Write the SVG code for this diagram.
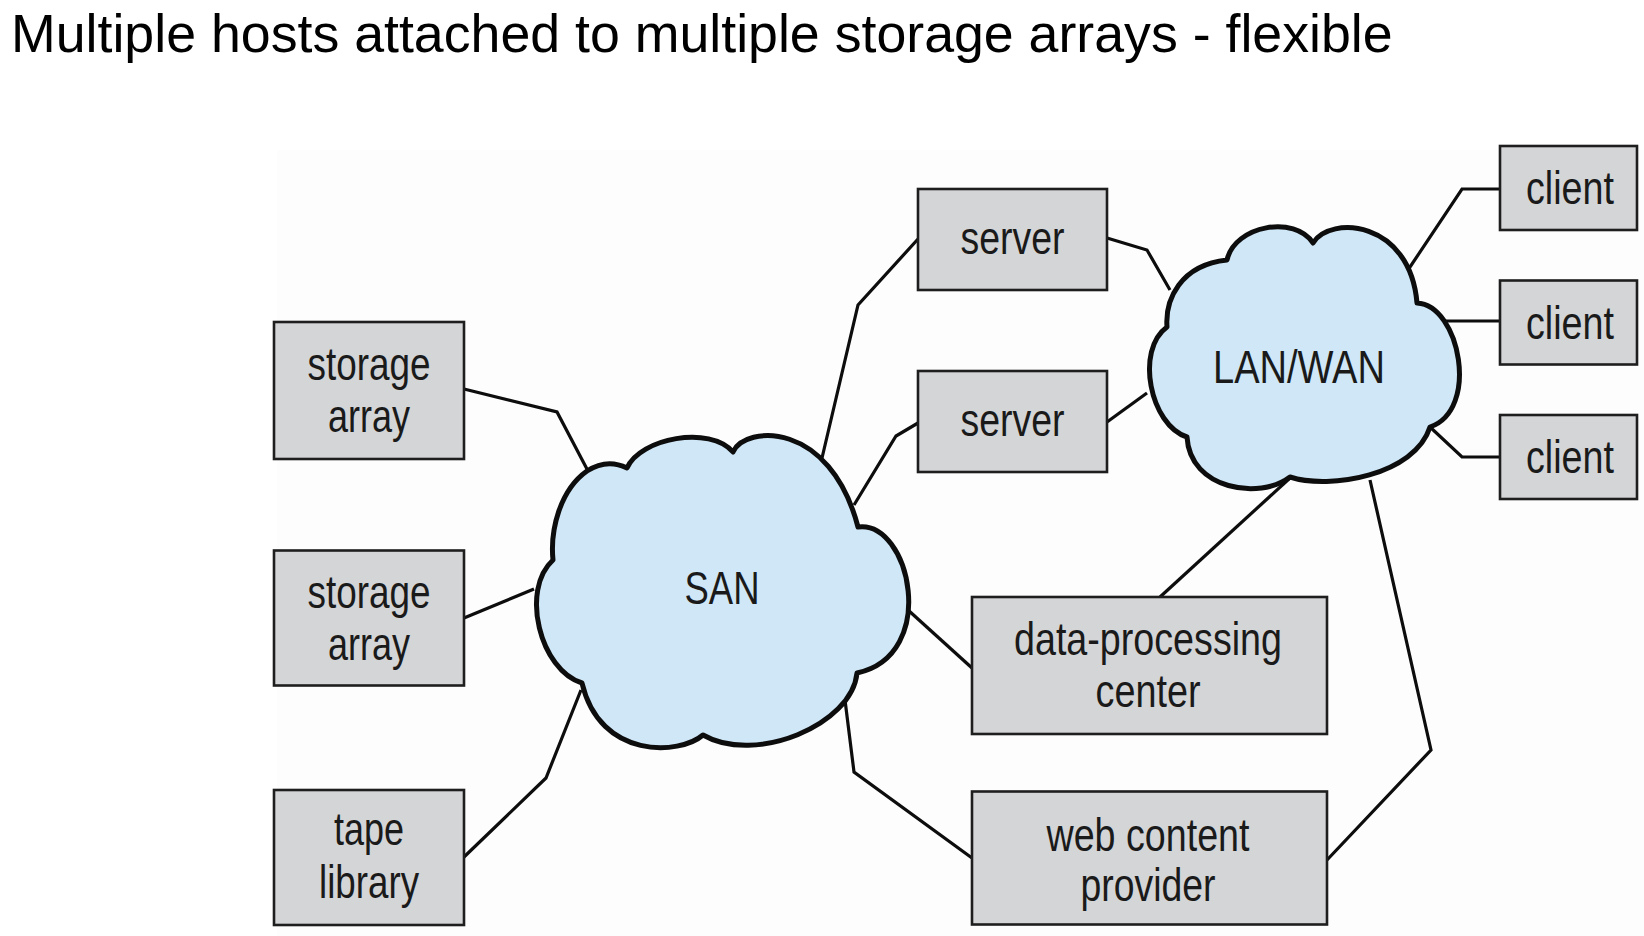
<svg xmlns="http://www.w3.org/2000/svg" width="1644" height="936" viewBox="0 0 1644 936">
<style>
.title{font-family:"Liberation Sans",Arial,sans-serif;font-size:53.7px;fill:#000}
.box{fill:#d4d5d7;stroke:#1e1e1e;stroke-width:2.6}
.lbl{font-family:"Liberation Sans",Arial,sans-serif;font-size:46px;fill:#1a1a1a;text-anchor:middle}
.cloud{fill:#cfe7f7;stroke:#0d0d0d;stroke-width:5;stroke-linejoin:round}
.conn{fill:none;stroke:#0d0d0d;stroke-width:3.2;stroke-linejoin:miter}
</style>
<rect x="0" y="0" width="1644" height="936" fill="#ffffff"/>
<rect x="277" y="150" width="1367" height="786" fill="#fdfdfd"/>
<text class="title" x="11" y="52">Multiple hosts attached to multiple storage arrays - flexible</text>

<g id="connectors">
<polyline class="conn" points="464,389 557,412 588,471"/>
<polyline class="conn" points="464,618 534,589"/>
<polyline class="conn" points="464,857 546,778 581,690"/>
<polyline class="conn" points="822,458 858,305 918,239"/>
<polyline class="conn" points="854,505 896,436 918,423"/>
<polyline class="conn" points="908,610 972,668"/>
<polyline class="conn" points="845,700 854,772 972,858"/>
<polyline class="conn" points="1107,238 1147,250 1170,290"/>
<polyline class="conn" points="1107,422 1147,393"/>
<polyline class="conn" points="1406,273 1462,189 1500,189"/>
<polyline class="conn" points="1445,321 1500,321"/>
<polyline class="conn" points="1430,427 1462,457 1500,457"/>
<polyline class="conn" points="1290,478 1160,597"/>
<polyline class="conn" points="1370,480 1431,750 1327,860"/>
</g>

<g id="san">
<path class="cloud" d="M553,560 C550,530 560,490 587,471 Q607,458 627,468 C640,438 710,425 733,452 C745,425 830,420 858,527 C910,520 940,655 857,673 C852,725 755,765 703,735 C680,755 600,760 582,683 C540,670 520,590 553,560 Z"/>
<text class="lbl" x="722" y="604" textLength="75" lengthAdjust="spacingAndGlyphs">SAN</text>
</g>

<g id="lanwan">
<path class="cloud" d="M1167,327 C1165,300 1180,265 1227,260 C1235,225 1295,215 1313,243 C1330,215 1410,220 1417,303 C1460,305 1480,410 1430,427 C1415,475 1330,490 1290,477 C1260,500 1190,490 1187,437 C1150,425 1135,350 1167,327 Z"/>
<text class="lbl" x="1299" y="383" textLength="172" lengthAdjust="spacingAndGlyphs">LAN/WAN</text>
</g>

<g id="storage-array-1">
<rect class="box" x="274" y="322" width="190" height="137"/>
<text class="lbl" x="369" y="380" textLength="123" lengthAdjust="spacingAndGlyphs">storage</text>
<text class="lbl" x="369" y="432" textLength="82" lengthAdjust="spacingAndGlyphs">array</text>
</g>

<g id="storage-array-2">
<rect class="box" x="274" y="550.5" width="190" height="135"/>
<text class="lbl" x="369" y="608" textLength="123" lengthAdjust="spacingAndGlyphs">storage</text>
<text class="lbl" x="369" y="660" textLength="82" lengthAdjust="spacingAndGlyphs">array</text>
</g>

<g id="tape-library">
<rect class="box" x="274" y="790" width="190" height="135"/>
<text class="lbl" x="369" y="845" textLength="70" lengthAdjust="spacingAndGlyphs">tape</text>
<text class="lbl" x="369" y="898" textLength="100" lengthAdjust="spacingAndGlyphs">library</text>
</g>

<g id="server-1">
<rect class="box" x="918" y="189" width="189" height="101"/>
<text class="lbl" x="1012.5" y="254" textLength="104" lengthAdjust="spacingAndGlyphs">server</text>
</g>

<g id="server-2">
<rect class="box" x="918" y="371" width="189" height="101"/>
<text class="lbl" x="1012.5" y="436" textLength="104" lengthAdjust="spacingAndGlyphs">server</text>
</g>

<g id="client-1">
<rect class="box" x="1500" y="146" width="137" height="84"/>
<text class="lbl" x="1570" y="204" textLength="88" lengthAdjust="spacingAndGlyphs">client</text>
</g>

<g id="client-2">
<rect class="box" x="1500" y="280.5" width="137" height="84"/>
<text class="lbl" x="1570" y="338.5" textLength="88" lengthAdjust="spacingAndGlyphs">client</text>
</g>

<g id="client-3">
<rect class="box" x="1500" y="415" width="137" height="84"/>
<text class="lbl" x="1570" y="473" textLength="88" lengthAdjust="spacingAndGlyphs">client</text>
</g>

<g id="data-processing-center">
<rect class="box" x="972" y="597" width="355" height="137"/>
<text class="lbl" x="1148" y="655" textLength="268" lengthAdjust="spacingAndGlyphs">data-processing</text>
<text class="lbl" x="1148" y="707" textLength="105" lengthAdjust="spacingAndGlyphs">center</text>
</g>

<g id="web-content-provider">
<rect class="box" x="972" y="791.5" width="355" height="133"/>
<text class="lbl" x="1148" y="851" textLength="203" lengthAdjust="spacingAndGlyphs">web content</text>
<text class="lbl" x="1148" y="901" textLength="135" lengthAdjust="spacingAndGlyphs">provider</text>
</g>
</svg>
